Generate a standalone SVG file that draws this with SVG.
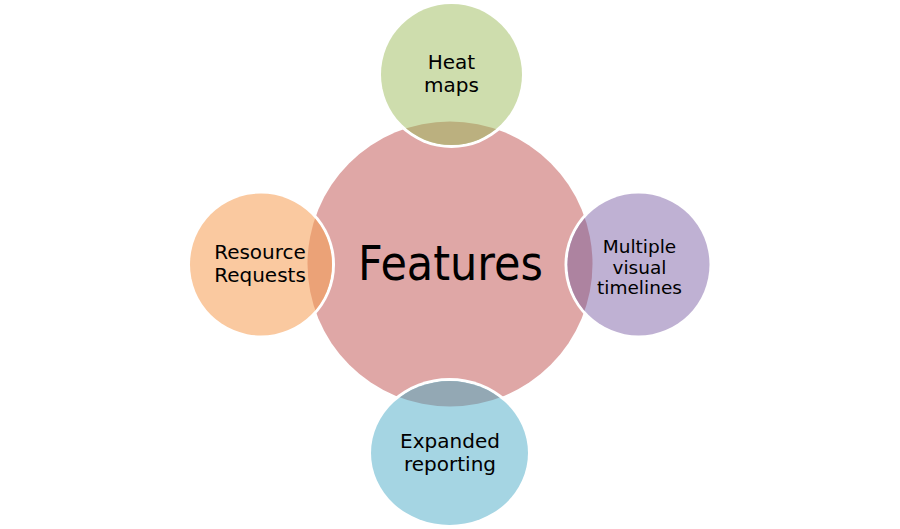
<svg xmlns="http://www.w3.org/2000/svg" width="900" height="529" viewBox="0 0 900 529">
  <style>
    .lbl { font-family: "DejaVu Sans", Verdana, sans-serif; font-size: 20px; fill: #000; text-anchor: middle; }
    .sm { font-size: 18.5px; }
    .big { font-family: "DejaVu Sans", Verdana, sans-serif; font-size: 48px; fill: #000; text-anchor: middle; }
    .halo { fill: #fff; }
  </style>
  <defs>
    <circle id="hub" cx="450" cy="264" r="142.5"/>
    <clipPath id="cTop"><circle cx="451.5" cy="74.5" r="70.5"/></clipPath>
    <clipPath id="cRight"><circle cx="638.5" cy="264.5" r="71"/></clipPath>
    <clipPath id="cLeft"><circle cx="261" cy="264.5" r="71"/></clipPath>
    <clipPath id="cBottom"><ellipse cx="449.5" cy="453" rx="78.5" ry="72"/></clipPath>
  </defs>

  <g id="features">
    <use href="#hub" fill="#DFA7A6"/>
  </g>

  <g id="heat-maps">
    <circle class="halo" cx="451.5" cy="74.5" r="73.5"/>
    <circle cx="451.5" cy="74.5" r="70.5" fill="#CEDDAD"/>
    <use href="#hub" fill="#BBB07F" clip-path="url(#cTop)"/>
    <text class="lbl" x="451.5" y="69">Heat</text>
    <text class="lbl" x="451.5" y="92">maps</text>
  </g>

  <g id="multiple-visual-timelines">
    <circle class="halo" cx="638.5" cy="264.5" r="74"/>
    <circle cx="638.5" cy="264.5" r="71" fill="#BFB1D3"/>
    <use href="#hub" fill="#AD83A0" clip-path="url(#cRight)"/>
    <text class="lbl sm" x="639.5" y="253">Multiple</text>
    <text class="lbl sm" x="639.5" y="274">visual</text>
    <text class="lbl sm" x="639.5" y="294">timelines</text>
  </g>

  <g id="resource-requests">
    <circle class="halo" cx="261" cy="264.5" r="74"/>
    <circle cx="261" cy="264.5" r="71" fill="#FAC9A0"/>
    <use href="#hub" fill="#EBA277" clip-path="url(#cLeft)"/>
    <text class="lbl" x="260" y="259">Resource</text>
    <text class="lbl" x="260" y="282">Requests</text>
  </g>

  <g id="expanded-reporting">
    <ellipse class="halo" cx="449.5" cy="453" rx="81.5" ry="75"/>
    <ellipse cx="449.5" cy="453" rx="78.5" ry="72" fill="#A5D5E3"/>
    <use href="#hub" fill="#93A8B4" clip-path="url(#cBottom)"/>
    <text class="lbl" x="450" y="448">Expanded</text>
    <text class="lbl" x="450" y="471">reporting</text>
  </g>

  <g id="features-label">
    <text class="big" x="450.5" y="280" textLength="185" lengthAdjust="spacingAndGlyphs">Features</text>
  </g>
</svg>
